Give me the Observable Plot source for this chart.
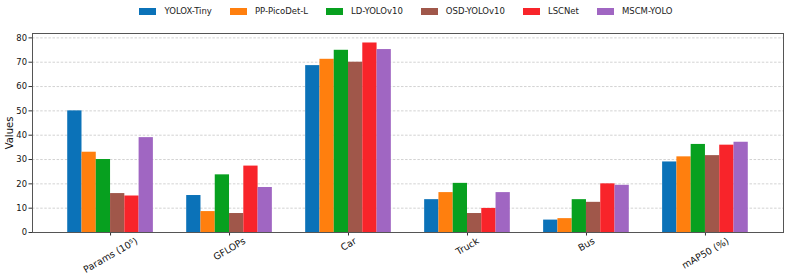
<!DOCTYPE html>
<html>
<head>
<meta charset="utf-8">
<script src="https://cdn.jsdelivr.net/npm/d3@7"></script>
<script src="https://cdn.jsdelivr.net/npm/@observablehq/plot@0.6"></script>
<style>
  html, body { margin: 0; padding: 0; background: #fff; }
  body { width: 786px; height: 279px; overflow: hidden; font-family: "DejaVu Sans", sans-serif; }
  #legend { height: 22px; display: flex; justify-content: center; align-items: center; padding-left: 26px; box-sizing: border-box; font-size: 8.5px; color: #222; }
  .item { display: flex; align-items: center; margin: 0 9px; }
  .sw { width: 17px; height: 7px; margin-right: 8px; }
</style>
</head>
<body>
<div id="legend"></div>
<div id="chart"></div>
<script>
const categories = ["Params (10\u2075)", "GFLOPs", "Car", "Truck", "Bus", "mAP50 (%)"];
const models = ["YOLOX-Tiny", "PP-PicoDet-L", "LD-YOLOv10", "OSD-YOLOv10", "LSCNet", "MSCM-YOLO"];
const yoloxTiny = [50, 15.2, 68.6, 13.5, 5.1, 29.0];
const ppPicoDet = [33, 8.6, 71.2, 16.4, 5.7, 31.1];
const ldYolo = [30, 23.7, 74.9, 20.2, 13.5, 36.2];
const osdYolo = [16, 7.8, 70.0, 7.8, 12.4, 31.6];
const lscNet = [15, 27.3, 77.9, 9.9, 20.0, 35.9];
const mscmYolo = [39, 18.5, 75.2, 16.4, 19.4, 37.1];
const colors = ["#0b72b8", "#ff7f0e", "#07a01f", "#a0574a", "#f8242a", "#a066c2"];
const yTicks = [0, 10, 20, 30, 40, 50, 60, 70, 80];

const series = [yoloxTiny, ppPicoDet, ldYolo, osdYolo, lscNet, mscmYolo];

// legend
const legend = document.getElementById("legend");
models.forEach((m, i) => {
  const it = document.createElement("div");
  it.className = "item";
  it.innerHTML = `<span class="sw" style="background:${colors[i]}"></span><span>${m}</span>`;
  legend.appendChild(it);
});

const W = 786, H = 257, mL = 32, mR = 3, mT = 11, mB = 47;
const pInner = 0.28, pOuter = 0.296;
const n = categories.length;
const step = (W - mL - mR) / (n - pInner + 2 * pOuter);
const bw = step * (1 - pInner);
const sub = bw / models.length;

const labelFs = 9.4;
const ctx = document.createElement("canvas").getContext("2d");
ctx.font = `${labelFs}px "DejaVu Sans"`;
function dyFor(c) {
  const L = ctx.measureText(c).width;
  const h = labelFs * 1.17;
  return 3 + (L / 2) * Math.sin(Math.PI / 6) + (h / 2) * Math.cos(Math.PI / 6);
}

const barMarks = series.map((vals, i) =>
  Plot.barY(categories.map((c, j) => ({category: c, value: vals[j]})), {
    x: "category",
    y: "value",
    fill: colors[i],
    insetLeft: i * sub,
    insetRight: (models.length - 1 - i) * sub
  })
);

const labelMarks = categories.map(c =>
  Plot.text([c], {
    x: d => d,
    frameAnchor: "bottom",
    rotate: -30,
    textAnchor: "middle",
    lineAnchor: "middle",
    dy: dyFor(c),
    fontSize: labelFs,
    fill: "#111"
  })
);

const chart = Plot.plot({
  width: W,
  height: H,
  marginLeft: mL,
  marginRight: mR,
  marginTop: mT,
  marginBottom: mB,
  style: {fontFamily: "DejaVu Sans, sans-serif", background: "#fff", color: "#111"},
  x: {type: "band", domain: categories, paddingInner: pInner, paddingOuter: pOuter, align: 0.5, round: false},
  y: {domain: [0, 81.8]},
  marks: [
    Plot.gridY(yTicks, {stroke: "#c0c0c0", strokeOpacity: 1, strokeWidth: 0.7, strokeDasharray: "2.5,1.6"}),
    ...barMarks,
    Plot.axisY(yTicks, {tickSize: 3.5, tickPadding: 2, fontSize: 8.4, label: null, stroke: "#333"}),
    Plot.axisX({tickSize: 3.5, tickFormat: () => "", label: null, stroke: "#333"}),
    ...labelMarks,
    Plot.text(["Values"], {frameAnchor: "left", dx: -23, rotate: -90, textAnchor: "middle", fontSize: 10, fill: "#111"}),
    Plot.frame({stroke: "#555", strokeWidth: 1})
  ]
});
document.getElementById("chart").appendChild(chart);
</script>
</body>
</html>
